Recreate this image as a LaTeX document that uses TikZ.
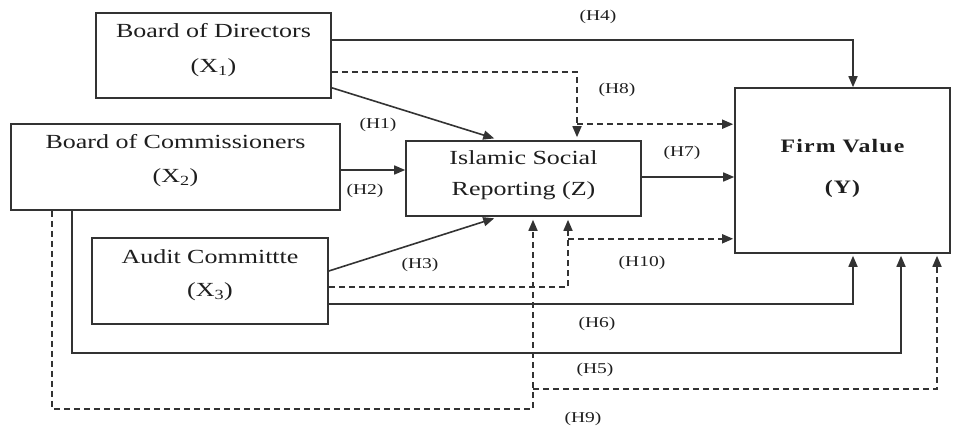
\documentclass[tikz,border=0pt]{standalone}
\usepackage{fontspec}
\setmainfont[FakeStretch=1.3]{Liberation Serif}
\newfontfamily\fvfont[FakeStretch=1.25,LetterSpace=6]{Liberation Serif}
\usetikzlibrary{arrows.meta,calc}
\definecolor{ln}{HTML}{333333}
\definecolor{tx}{HTML}{1E1E1E}
\tikzset{
  box/.style={draw=ln, line width=1.6pt, rectangle, inner sep=0pt},
  txt/.style={text=tx, font=\fontsize{20}{24}\selectfont, inner sep=0pt},
  arr/.style={draw=ln, line width=1.6pt, -{Triangle[length=11pt,width=9pt]}},
  darr/.style={arr, dash pattern=on 6pt off 4pt},
  hl/.style={text=tx, font=\fontsize{15}{17}\selectfont, inner sep=0pt}
}
\begin{document}
\begin{tikzpicture}[x=1pt,y=-1pt]
\useasboundingbox[fill=white] (0,0) rectangle (960,430);
% boxes
\node[box, minimum width=235pt, minimum height=85pt] (x1) at (213.5,55.5) {};
\node[box, minimum width=329pt, minimum height=86pt] (x2) at (175.5,167) {};
\node[box, minimum width=236pt, minimum height=86pt] (x3) at (210,281) {};
\node[box, minimum width=235pt, minimum height=75pt] (z) at (523.5,178.5) {};
\node[box, minimum width=215pt, minimum height=165pt] (y) at (842.5,170.5) {};
% box texts
\node[txt] (x1a) at ($(x1.north)+(0,18)$) {Board of Directors};
\node[txt] (x1b) at ($(x1.north)+(0,55)$) {(X\textsubscript{1})};
\node[txt] (x2a) at ($(x2.north)+(0,18)$) {Board of Commissioners};
\node[txt] (x2b) at ($(x2.north)+(0,54)$) {(X\textsubscript{2})};
\node[txt] (x3a) at ($(x3.north)+(0,19)$) {Audit Committte};
\node[txt] (x3b) at ($(x3.north)+(0,54)$) {(X\textsubscript{3})};
\node[txt] (za) at ($(z.north)+(0,17)$) {Islamic Social};
\node[txt] (zb) at ($(z.north)+(0,51)$) {Reporting (Z)};
\node[txt, font=\fontsize{19}{24}\fvfont\bfseries] (ya) at ($(y.north)+(0,59)$) {Firm Value};
\node[txt, font=\fontsize{19}{24}\fvfont\bfseries] (yb) at ($(y.north)+(0,102)$) {(Y)};
% connectors
\draw[arr] ($(x1.north east)+(0,28)$) -| ($(y.north)+(10.5,0)$);
\draw[darr, shorten >=3pt] ($(x1.north east)+(0,60)$) -| ($(z.north)+(53.5,0)$);
\draw[darr, shorten >=1pt] ($(z.north)+(53.5,-16)$) -- ($(y.north west)+(0,37)$);
\draw[arr, shorten >=6pt] ($(x1.south east)+(0,-11)$) -- ($(z.north)+(-23.5,0)$);
\draw[arr] ($(x2.east)+(0,3)$) -- ($(z.west)+(0,-8.5)$);
\draw[arr] ($(z.east)+(0,-1.5)$) -- ($(y.west)+(0,6.5)$);
\draw[arr, shorten >=5pt] ($(x3.east)+(0,-10)$) -- ($(z.south)+(-24.5,0)$);
\draw[darr, shorten >=3pt] ($(x3.east)+(0,6)$) -| ($(z.south)+(44.5,0)$);
\draw[darr, shorten >=1pt] ($(z.south)+(44.5,22)$) -- ($(y.south west)+(0,-15)$);
\draw[arr, shorten >=2pt] ($(x3.east)+(0,23)$) -| ($(y.south)+(10.5,0)$);
\draw[arr, shorten >=2pt] ($(x2.south west)+(62,0)$) -- ++(0,142) -| ($(y.south)+(58.5,0)$);
\draw[darr, shorten >=3pt] ($(x2.south west)+(42,0)$) -- ++(0,198) -| ($(z.south)+(9.5,0)$);
\draw[darr, shorten >=2pt] ($(z.south)+(9.5,172)$) -| ($(y.south)+(94.5,0)$);
% labels
\node[hl] (h4) at (598,17) {(H4)};
\node[hl] (h8) at (617,90) {(H8)};
\node[hl] (h1) at (378,125) {(H1)};
\node[hl] (h2) at (365,191) {(H2)};
\node[hl] (h7) at (682,153) {(H7)};
\node[hl] (h3) at (420,265) {(H3)};
\node[hl] (h10) at (642,263) {(H10)};
\node[hl] (h6) at (597,324) {(H6)};
\node[hl] (h5) at (595,370) {(H5)};
\node[hl] (h9) at (583,419) {(H9)};
\end{tikzpicture}
\end{document}
